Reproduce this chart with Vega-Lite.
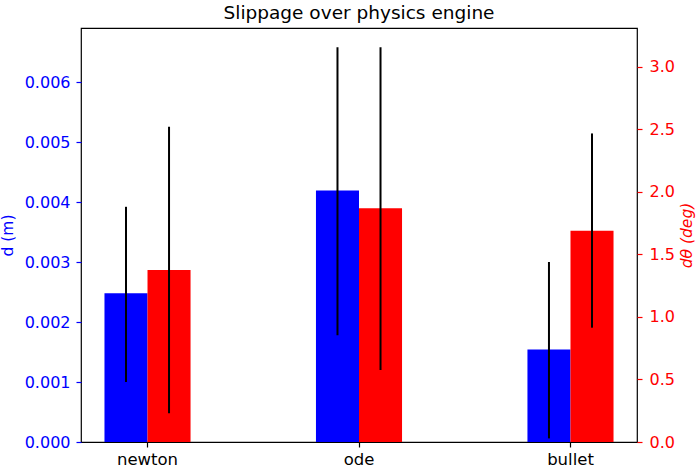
{
  "$schema": "https://vega.github.io/schema/vega-lite/v6.json",
  "autosize": "none",
  "width": 556,
  "height": 414,
  "padding": {"left": 81, "top": 28, "right": 62, "bottom": 28},
  "background": "white",
  "config": {
    "font": "DejaVu Sans",
    "view": {"stroke": "black", "strokeWidth": 1.2},
    "axis": {"grid": false, "domain": false, "tickSize": 5, "tickWidth": 1.2, "labelFontSize": 16, "titleFontSize": 15.5, "titleFontWeight": "normal", "labelPadding": 4}
  },
  "title": {"text": "Slippage over physics engine", "fontSize": 18.5, "fontWeight": "normal", "color": "black", "baseline": "bottom", "offset": 7, "dy": 20},
  "data": {
    "values": [
      {"engine": "newton", "series": "d", "value": 0.00248, "lo": 0.00100, "hi": 0.00392},
      {"engine": "ode", "series": "d", "value": 0.00419, "lo": 0.00178, "hi": 0.00658},
      {"engine": "bullet", "series": "d", "value": 0.00154, "lo": 0.00006, "hi": 0.00300},
      {"engine": "newton", "series": "theta", "value": 1.375, "lo": 0.229, "hi": 2.52},
      {"engine": "ode", "series": "theta", "value": 1.868, "lo": 0.576, "hi": 3.157},
      {"engine": "bullet", "series": "theta", "value": 1.689, "lo": 0.914, "hi": 2.467}
    ]
  },
  "encoding": {
    "x": {
      "field": "engine", "type": "nominal", "sort": ["newton", "ode", "bullet"],
      "scale": {"paddingInner": 0.593, "paddingOuter": 0.111},
      "axis": {"title": null, "labelAngle": 0, "labelColor": "black", "tickColor": "black", "labelFontSize": 16.5}
    },
    "xOffset": {"field": "series", "type": "nominal", "scale": {"domain": ["d", "theta"], "paddingInner": 0, "paddingOuter": 0}}
  },
  "layer": [
    {
      "transform": [{"filter": "datum.series === 'd'"}],
      "encoding": {
        "y": {
          "field": "value", "type": "quantitative",
          "scale": {"domain": [0, 0.0069], "nice": false, "zero": true},
          "axis": {"title": "d (m)", "orient": "left", "values": [0, 0.001, 0.002, 0.003, 0.004, 0.005, 0.006], "format": ".3f", "labelColor": "#0000ff", "tickColor": "#0000ff", "titleColor": "#0000ff", "labelPadding": 6, "titlePadding": 9}
        }
      },
      "layer": [
        {"mark": {"type": "bar", "color": "#0000ff"}},
        {"mark": {"type": "rule", "color": "black", "strokeWidth": 2}, "encoding": {"y": {"field": "lo", "type": "quantitative"}, "y2": {"field": "hi"}}}
      ]
    },
    {
      "transform": [{"filter": "datum.series === 'theta'"}],
      "encoding": {
        "y": {
          "field": "value", "type": "quantitative",
          "scale": {"domain": [0, 3.31], "nice": false, "zero": true},
          "axis": {"title": "dθ (deg)", "orient": "right", "values": [0, 0.5, 1, 1.5, 2, 2.5, 3], "format": ".1f", "labelColor": "#ff0000", "tickColor": "#ff0000", "titleColor": "#ff0000", "titleFontStyle": "italic", "titleAngle": 270, "titleBaseline": "top", "labelPadding": 7, "titlePadding": 5}
        }
      },
      "layer": [
        {"mark": {"type": "bar", "color": "#ff0000"}},
        {"mark": {"type": "rule", "color": "black", "strokeWidth": 2}, "encoding": {"y": {"field": "lo", "type": "quantitative"}, "y2": {"field": "hi"}}}
      ]
    }
  ],
  "resolve": {"scale": {"y": "independent"}}
}
